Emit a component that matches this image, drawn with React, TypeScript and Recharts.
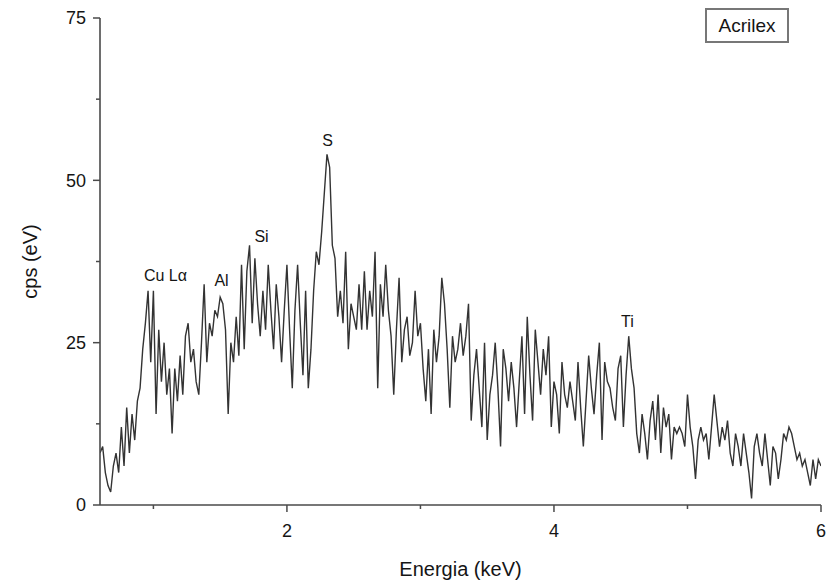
import React from 'react';
import { LineChart, Line, XAxis, YAxis, ReferenceDot } from 'recharts';

// Energy grid (keV): sampled every 0.02 keV from 0.60 to 6.00
const E_START = 0.6;
const E_STEP = 0.02;

// counts per second
const counts: number[] = [
  // 0.60 – 1.00
  8, 9, 5, 3, 2, 6, 8, 5, 12, 6, 15, 8, 14, 10, 16, 18, 24, 28, 33, 22, 33,
  // 1.02 – 1.80
  14, 27, 19, 25, 17, 21, 11, 21, 16, 23, 17, 26, 28, 22, 24, 19, 17, 25, 34, 22,
  28, 26, 30, 29, 32, 31, 27, 14, 25, 22, 29, 23, 37, 24, 36, 40, 28, 38, 31, 26,
  // 1.82 – 2.74
  33, 27, 37, 30, 24, 34, 29, 22, 30, 37, 27, 18, 30, 37, 28, 20, 33, 18, 24, 33,
  39, 37, 42, 48, 54, 52, 40, 38, 29, 33, 28, 39, 24, 31, 29, 27, 34, 27, 36, 27,
  33, 29, 39, 18, 34, 29, 37,
  // 2.76 – 3.80
  30, 26, 17, 27, 35, 22, 27, 29, 23, 25, 33, 26, 28, 21, 16, 24, 14, 27, 22, 26,
  35, 31, 24, 15, 26, 22, 24, 28, 23, 26, 31, 13, 20, 24, 18, 12, 25, 10, 17, 20,
  25, 18, 9, 24, 21, 16, 22, 18, 12, 19, 26, 14, 29,
  // 3.82 – 4.80
  20, 13, 27, 22, 17, 24, 20, 26, 12, 19, 17, 11, 22, 17, 15, 19, 16, 13, 22, 15,
  9, 16, 23, 18, 14, 20, 25, 10, 22, 19, 18, 15, 13, 21, 23, 12, 20, 26, 21, 18,
  11, 8, 14, 11, 7, 13, 16, 10, 17, 8,
  // 4.82 – 6.00
  15, 12, 14, 7, 12, 11, 12, 11, 9, 17, 12, 9, 4, 10, 12, 10, 11, 7, 12, 17,
  13, 9, 12, 10, 13, 8, 6, 11, 9, 6, 11, 8, 5, 1, 9, 11, 8, 6, 11, 7,
  3, 9, 8, 4, 7, 11, 10, 12, 11, 9, 7, 8, 6, 7, 5, 3, 7, 4, 7, 6,
];

const xTicks = [1, 2, 3, 4, 5, 6];
const yTicks = [0, 12.5, 25, 37.5, 50, 62.5, 75];

const peakLabels = [
  { name: 'Cu Lα', e: 1.09, y: 35.4 },
  { name: 'Al', e: 1.51, y: 34.6 },
  { name: 'Si', e: 1.81, y: 41.3 },
  { name: 'S', e: 2.305, y: 56.2 },
  { name: 'Ti', e: 4.55, y: 28.2 },
];

const data = counts.map((c, i) => ({ e: +(E_START + i * E_STEP).toFixed(2), c }));

const AXIS = '#4a4a4a';
const TEXT = '#151515';

const XTick = (props: any) => {
  const { x, y, payload } = props;
  const major = payload.value % 2 === 0;
  return (
    <g>
      <line x1={x} x2={x} y1={y} y2={y + (major ? 7 : 4)} stroke={AXIS} strokeWidth={1.5} />
      {major && (
        <text x={x} y={y + 32} textAnchor="middle" fontSize={18} fill={TEXT}>
          {payload.value}
        </text>
      )}
    </g>
  );
};

const YTick = (props: any) => {
  const { x, y, payload } = props;
  const major = payload.value % 25 === 0;
  return (
    <g>
      <line x1={x - (major ? 7 : 4)} x2={x} y1={y} y2={y} stroke={AXIS} strokeWidth={1.5} />
      {major && (
        <text x={x - 14} y={y} dy="0.35em" textAnchor="end" fontSize={18} fill={TEXT}>
          {payload.value}
        </text>
      )}
    </g>
  );
};

const PeakLabel = (props: any) => {
  const { viewBox, value } = props;
  const cx = viewBox.x + (viewBox.width || 0) / 2;
  const cy = viewBox.y + (viewBox.height || 0) / 2;
  return (
    <text x={cx} y={cy} dy="0.35em" textAnchor="middle" fontSize={16} fill={TEXT}>
      {value}
    </text>
  );
};

export default function App() {
  return (
    <div
      style={{
        position: 'absolute',
        left: 0,
        top: 0,
        width: 829,
        height: 585,
        background: '#fff',
        fontFamily: '"Liberation Sans", Arial, sans-serif',
      }}
    >
      <LineChart width={829} height={585} data={data} margin={{ top: 18, right: 8, bottom: 0, left: 0 }}>
        <XAxis
          dataKey="e"
          type="number"
          domain={[0.6, 6]}
          ticks={xTicks}
          interval={0}
          allowDataOverflow
          height={80}
          stroke={AXIS}
          strokeWidth={1.6}
          tickLine={false}
          tickSize={0}
          tickMargin={0}
          tick={<XTick />}
          label={{ value: 'Energia (keV)', position: 'insideBottom', offset: 9, fontSize: 20, fill: TEXT }}
        />
        <YAxis
          type="number"
          domain={[0, 75]}
          ticks={yTicks}
          interval={0}
          width={100}
          stroke={AXIS}
          strokeWidth={1.6}
          tickLine={false}
          tickSize={0}
          tickMargin={0}
          tick={<YTick />}
          label={{
            value: 'cps (eV)',
            angle: -90,
            position: 'insideLeft',
            offset: 30,
            fontSize: 20,
            fill: TEXT,
            style: { textAnchor: 'middle' },
          }}
        />
        <Line
          type="linear"
          dataKey="c"
          stroke="#333333"
          strokeWidth={1.4}
          dot={false}
          isAnimationActive={false}
        />
        {peakLabels.map((p) => (
          <ReferenceDot
            key={p.name}
            x={p.e}
            y={p.y}
            r={0}
            fill="none"
            stroke="none"
            ifOverflow="visible"
            label={<PeakLabel value={p.name} />}
          />
        ))}
      </LineChart>
      <div
        style={{
          position: 'absolute',
          left: 705,
          top: 8,
          width: 80,
          height: 31,
          border: '2px solid #777',
          fontSize: 19,
          lineHeight: '31px',
          textAlign: 'center',
          color: TEXT,
        }}
      >
        Acrilex
      </div>
    </div>
  );
}
